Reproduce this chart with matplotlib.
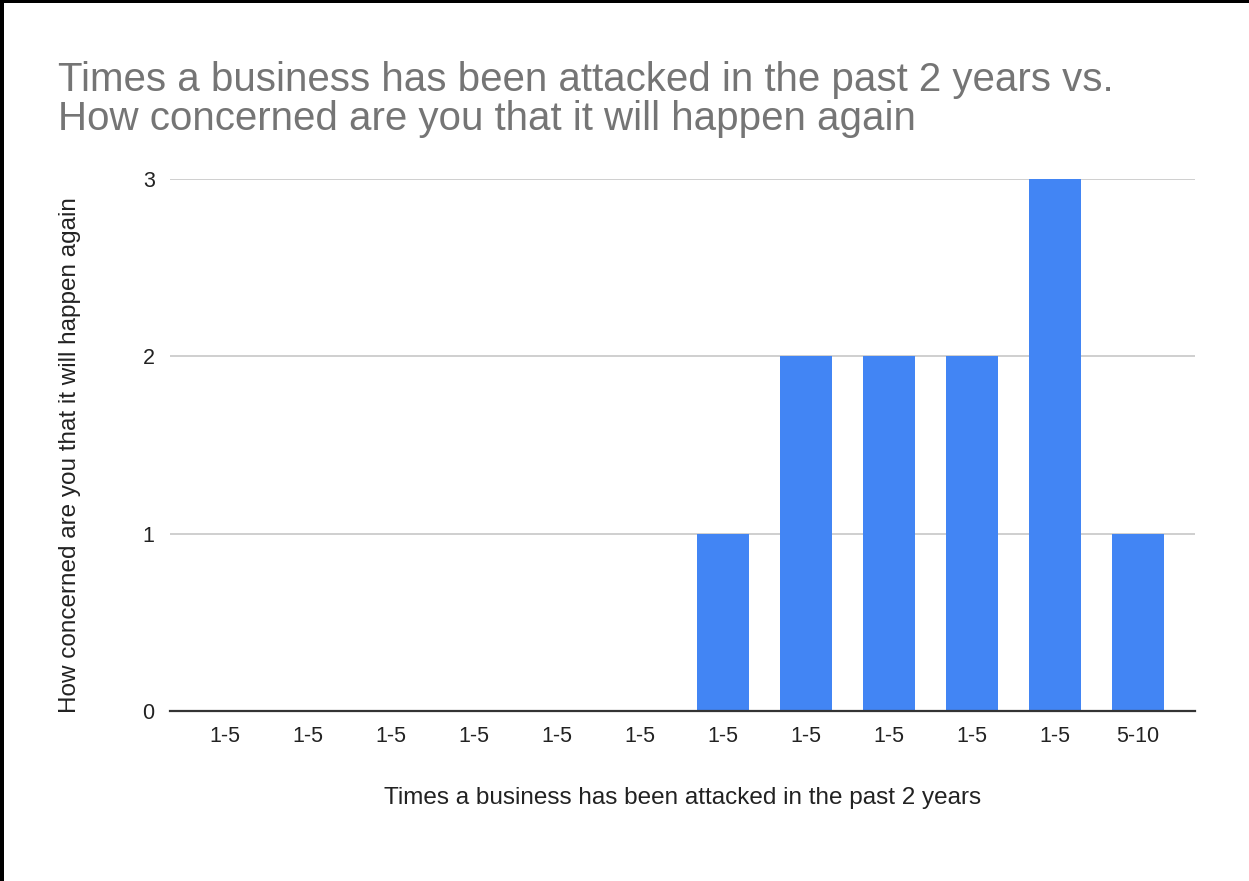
import matplotlib.pyplot as plt
from matplotlib.patches import Rectangle

plt.rcParams["font.family"] = ["Liberation Sans", "DejaVu Sans"]

categories = ["1-5", "1-5", "1-5", "1-5", "1-5", "1-5",
              "1-5", "1-5", "1-5", "1-5", "1-5", "5-10"]
concern = [0, 0, 0, 0, 0, 0, 1, 2, 2, 2, 3, 1]
y_ticks = [0, 1, 2, 3]

title = ("Times a business has been attacked in the past 2 years vs.\n"
         "How concerned are you that it will happen again")
x_label = "Times a business has been attacked in the past 2 years"
y_label = "How concerned are you that it will happen again"

bar_color = "#4285f4"
grid_color = "#cccccc"
title_color = "#757575"
text_color = "#222222"

W, H = 1249, 881
fig = plt.figure(figsize=(W / 100, H / 100), dpi=100)
fig.patch.set_facecolor("white")
ax = fig.add_axes([170 / W, 1 - 711 / H, 1025 / W, 532 / H])

x = range(len(categories))
ax.bar(x, concern, width=0.63, color=bar_color, zorder=3)

ax.set_xlim(-0.66, len(categories) - 1 + 0.69)
ax.set_ylim(0, 3)
ax.set_yticks(y_ticks)
ax.set_xticks(list(x))
ax.set_xticklabels(categories)
ax.tick_params(axis="both", length=0, labelsize=15.5, colors=text_color)
ax.tick_params(axis="y", pad=11)
ax.tick_params(axis="x", pad=11)

ax.grid(axis="y", color=grid_color, linewidth=1.3, zorder=0)
for side in ["top", "right", "left"]:
    ax.spines[side].set_visible(False)
ax.spines["bottom"].set_color("#333333")
ax.spines["bottom"].set_linewidth(1.6)
ax.spines["bottom"].set_zorder(4)

ax.set_xlabel(x_label, fontsize=17.5, color=text_color, va="center")
ax.xaxis.set_label_coords(0.5, -87 / 532)
ax.set_ylabel(y_label, fontsize=17.5, color=text_color, va="center")
ax.yaxis.set_label_coords(-100 / 1025, 0.481)

fig.text(58 / W, 1 - 61 / H, title, fontsize=29, color=title_color,
         ha="left", va="top", linespacing=1.05)

# frame on the left and top edges
fig.add_artist(Rectangle((0, 0), 4 / W, 1, transform=fig.transFigure,
                         facecolor="black", edgecolor="none"))
fig.add_artist(Rectangle((0, 1 - 3 / H), 1, 3 / H, transform=fig.transFigure,
                         facecolor="black", edgecolor="none"))

fig.savefig("out.png", dpi=100)
